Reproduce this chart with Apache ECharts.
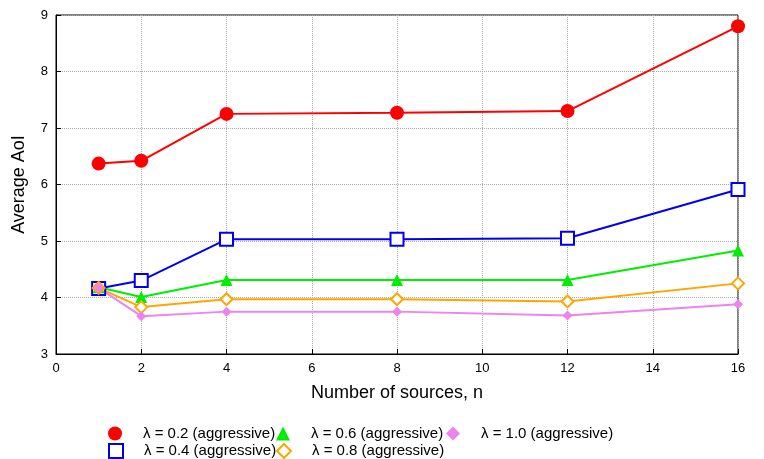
<!DOCTYPE html><html><head><meta charset="utf-8"><script src="https://cdn.jsdelivr.net/npm/echarts@6/dist/echarts.min.js"></script></head><body style="margin:0"><div id="c" style="width:764px;height:459px"></div><script>
const xs=[1,2,4,8,12,16];
const names=['λ = 0.2 (aggressive)','λ = 0.4 (aggressive)','λ = 0.6 (aggressive)','λ = 0.8 (aggressive)','λ = 1.0 (aggressive)'];
const l02=[6.37,6.42,7.25,7.27,7.30,8.80];
const l04=[4.16,4.30,5.03,5.03,5.05,5.91];
const l06=[4.18,4.01,4.31,4.31,4.31,4.83];
const l08=[4.17,3.83,3.97,3.97,3.93,4.25];
const l10=[4.17,3.67,3.75,3.75,3.68,3.88];
const colors=['#ff0000','#0000ee','#00ee00','#ffa500','#ee82ee'];
const syms=['circle','rect','triangle','diamond','diamond'];
const sizes=[14,13,12,12,10];
const data=[l02,l04,l06,l08,l10];
const F='Liberation Sans';
const series=data.map((d,i)=>({name:names[i],type:'line',data:d.map((v,j)=>[xs[j],v]),symbol:syms[i],symbolSize:sizes[i],
 lineStyle:{color:colors[i],width:2},itemStyle:(i==1||i==3)?{color:'#fff',borderColor:colors[i],borderWidth:2}:{color:colors[i]}}));
const legPos=[[103,421],[103,438],[271,421],[271,438],[441,421]];
const legend=names.map((n,i)=>({data:[{name:n,icon:syms[i]}],left:legPos[i][0],top:legPos[i][1],itemWidth:14,itemHeight:14,itemGap:0,lineStyle:{width:0},textStyle:{fontFamily:F,fontSize:15,color:'#000',padding:[0,0,0,16]}}));
const ax={axisLine:{lineStyle:{color:'#000'}},axisTick:{inside:true,lineStyle:{color:'#000'}},axisLabel:{color:'#000',fontSize:13,fontFamily:F},splitLine:{lineStyle:{type:'dotted',color:'#aaa'}},nameLocation:'middle',nameTextStyle:{color:'#000',fontSize:18,fontFamily:F}};
echarts.init(document.getElementById('c')).setOption({animation:false,
 grid:{left:56,right:26,top:15,bottom:105,show:true,borderColor:'#000',borderWidth:1},
 legend,
 xAxis:Object.assign({type:'value',min:0,max:16,interval:2,name:'Number of sources, n',nameGap:30},ax),
 yAxis:Object.assign({type:'value',min:3,max:9,interval:1,name:'Average AoI',nameGap:28},ax),
 series});
</script></body></html>
